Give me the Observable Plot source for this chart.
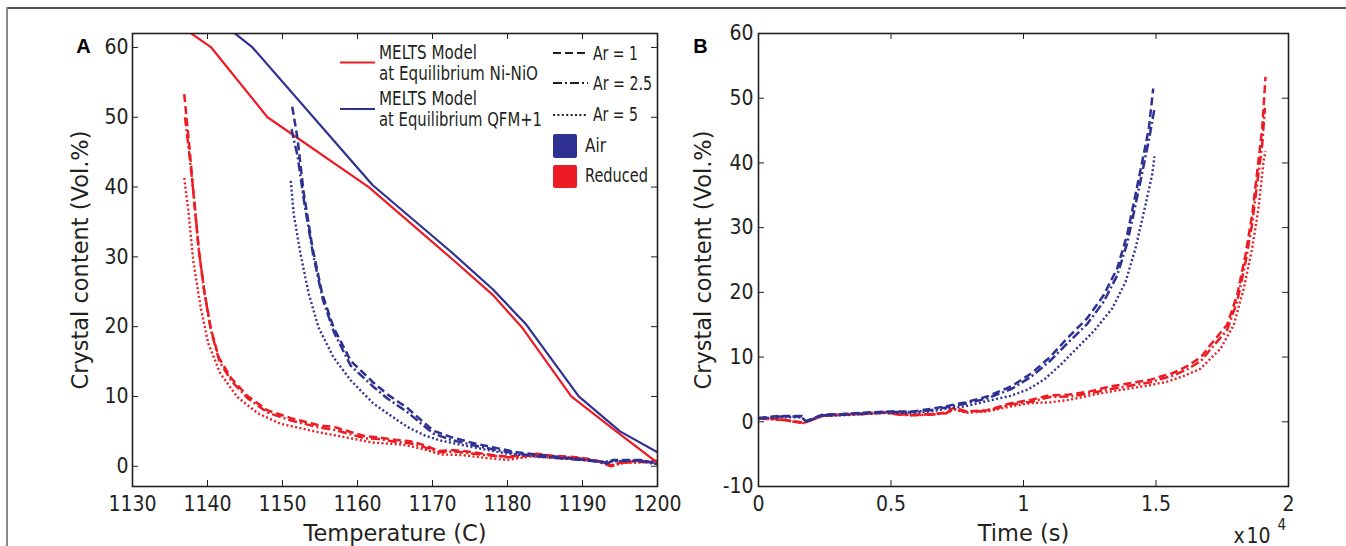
<!DOCTYPE html>
<html><head><meta charset="utf-8">
<script src="https://cdn.jsdelivr.net/npm/d3@7"></script>
<script src="https://cdn.jsdelivr.net/npm/@observablehq/plot@0.6"></script>
<style>
html,body{margin:0;padding:0;background:#fff;}
#fig{position:relative;width:1346px;height:546px;overflow:hidden;background:#fff;}
#fig > div.panel{position:absolute;top:0;}
#fig svg{overflow:visible;}
.border{position:absolute;}
</style></head>
<body><div id="fig"></div>
<script>
const RED = "#ed1c24", BLUE = "#2e3192", INK = "#231f20";

// ---------- Panel A: crystal content vs temperature ----------
const xTicksA = [1130, 1140, 1150, 1160, 1170, 1180, 1190, 1200];
const yTicksA = [0, 10, 20, 30, 40, 50, 60];

const meltsNiT = [1136.5, 1140.5, 1148, 1161.5, 1172.5, 1178, 1182, 1188.5, 1194.5, 1200];
const meltsNiV = [63, 60, 50, 40, 29.8, 24.6, 19.8, 10, 5, 0.5];
const meltsQfmT = [1142.5, 1146, 1162, 1172.5, 1178, 1182.5, 1189.5, 1195, 1200];
const meltsQfmV = [63, 60, 40.3, 30.7, 25.4, 20.3, 10, 5, 2];

const redAr1T = [1136.9,1137.6,1138.1,1138.8,1139.5,1140.4,1141.5,1143.1,1145.3,1148,1151.1,1154.7,1157,1159.1,1161,1163,1165,1167,1169,1170.8,1173,1175.5,1178,1180,1182,1184,1186,1188,1190,1192,1193.7,1195.3,1197,1200];
const redAr1V = [53.3,45.6,39.4,31.3,25.6,19.9,15.6,12.7,10.1,8.0,6.9,5.9,5.6,4.9,4.3,4.1,3.8,3.6,3.0,2.2,2.3,2.0,1.6,1.4,1.5,1.8,1.5,1.4,1.2,0.8,0.1,0.6,0.7,0.8];
const redAr25T = [1137,1137.6,1138.2,1138.9,1139.6,1140.5,1141.6,1143.2,1145.4,1148,1151,1154.7,1157,1159,1161,1163,1165,1167,1169,1171,1173,1175.5,1178,1180,1182,1184,1186,1188,1190,1192,1193.8,1195.3,1197,1200];
const redAr25V = [50.0,44.5,38.5,30.5,24.8,19.3,15.0,12.2,9.7,7.7,6.6,5.6,5.2,4.6,4.0,3.9,3.5,3.3,2.7,2.0,2.1,1.8,1.5,1.3,1.4,1.7,1.4,1.3,1.1,0.7,0.0,0.5,0.6,0.7];
const redAr5T = [1136.9,1137.5,1138.1,1139.1,1140.1,1141.7,1144,1146.7,1149.7,1154.7,1159.1,1162,1166,1169,1171,1174,1177,1180,1183,1186,1189,1192,1194,1196,1200];
const redAr5V = [41.3,36.1,29.4,22.7,17.6,13.3,9.9,7.6,6.1,4.9,4.0,3.4,3.1,2.4,1.7,1.6,1.2,0.9,1.4,1.2,1.0,0.7,0.2,0.5,0.6];

const blueAr1T = [1151.3,1152,1152.8,1154,1155.3,1156.8,1159.1,1162.1,1164,1166.6,1168.5,1170.1,1172.4,1175.5,1178.6,1181.3,1184.4,1188.8,1191,1193.3,1194.1,1197.7,1200];
const blueAr1V = [51.5,47,39.4,31.3,24.7,19.9,15.1,12.0,10.3,8.4,6.6,5.1,4.2,3.3,2.6,2.0,1.6,1.1,0.9,0.5,0.9,0.9,0.4];
const blueAr25T = [1151.2,1152,1152.9,1154.1,1155.4,1156.9,1159.1,1162.1,1164,1166.6,1168.5,1170.1,1172.4,1175.5,1178.6,1181.3,1184.4,1188.8,1191,1193.3,1194.1,1197.7,1200];
const blueAr25V = [48.3,44.5,37.8,30.2,23.8,19.1,14.4,11.4,9.7,7.8,6.1,4.7,3.8,3.0,2.3,1.8,1.4,1.0,0.8,0.4,0.8,0.8,0.3];
const blueAr5T = [1151.1,1151.5,1152.4,1153.5,1154.8,1156.8,1159.1,1162.1,1164.5,1166.7,1169,1171,1175.5,1180,1184,1188,1192,1194,1197,1200];
const blueAr5V = [40.9,36.1,30.4,24.7,19.9,15.6,12.3,9.0,7.2,5.6,4.4,3.7,2.7,1.8,1.4,1.1,0.7,0.7,0.8,0.3];

// ---------- Panel B: crystal content vs time ----------
const xTicksB = [0, 5000, 10000, 15000, 20000];
const yTicksB = [-10, 0, 10, 20, 30, 40, 50, 60];

const bAirAr1T = [0,800,1632,1787,2409,3200,3963,4895,5828,6500,7071,7800,8625,9557,10300,11000,11648,12403,13032,13535,13912,14226,14480,14730,14895];
const bAirAr1V = [0.6,0.9,0.9,0.1,1.1,1.2,1.4,1.6,1.6,2.0,2.4,3.0,3.9,5.5,7.5,10.0,12.9,16.0,19.6,23.7,28.9,35.1,40.2,45.3,51.5];
const bAirAr25T = [0,800,1632,1787,2409,3200,3963,4895,5828,6500,7071,7800,8625,9557,10300,11000,11648,12403,13032,13535,13912,14226,14480,14730,14943];
const bAirAr25V = [0.5,0.8,0.8,0.0,1.0,1.1,1.3,1.5,1.5,1.8,2.2,2.8,3.6,5.1,7.0,9.4,12.1,15.1,18.6,22.6,27.6,33.5,38.5,43.5,48.4];
const bAirAr5T = [0,800,1632,1787,2409,3200,3963,4895,5828,6500,7071,7800,8625,9500,10179,10800,11400,12000,12654,13346,13849,14226,14541,14856,14943];
const bAirAr5V = [0.5,0.7,0.7,0.0,0.9,1.0,1.2,1.4,1.4,1.6,2.0,2.4,3.2,4.0,5.0,6.6,8.8,11.3,14.0,17.5,21.6,26.8,32.4,38.2,41.0];

const bRedAr1T = [0,855,1709,2409,3200,4000,4740,5300,5828,6500,7071,7382,7848,8625,9557,10300,10956,11733,12510,13200,14064,14800,15170,15618,16176,16700,17057,17686,18063,18377,18629,18818,19007,19132];
const bRedAr1V = [0.6,0.4,-0.15,1.0,1.2,1.3,1.5,1.2,1.1,1.2,1.4,2.2,1.6,1.8,2.9,3.4,4.1,4.2,4.7,5.4,6.0,6.5,7.0,7.5,8.6,10.0,11.9,15.0,19.6,25.8,32.0,38.6,45.3,53.3];
const bRedAr25T = [0,855,1709,2409,3200,4000,4740,5300,5828,6500,7071,7382,7848,8625,9557,10300,10956,11733,12510,13200,14064,14800,15170,15618,16176,16700,17057,17686,18063,18377,18629,18818,19007,19110];
const bRedAr25V = [0.5,0.3,-0.2,0.9,1.1,1.2,1.4,1.1,1.0,1.1,1.3,2.0,1.5,1.7,2.7,3.1,3.8,3.9,4.4,5.0,5.6,6.1,6.6,7.1,8.1,9.4,11.2,14.2,18.6,24.6,30.6,36.8,42.8,48.5];
const bRedAr5T = [0,855,1709,2409,3200,4000,4740,5828,7071,7382,7848,8625,9557,10300,11000,11733,12906,14064,14700,15421,16000,16679,17434,17937,18314,18629,18868,19057,19132];
const bRedAr5V = [0.5,0.3,-0.2,0.9,1.1,1.2,1.4,1.0,1.3,1.9,1.4,1.6,2.4,2.9,3.0,3.4,4.4,5.2,5.6,6.2,7.0,8.2,11.3,15.0,20.6,26.8,33.0,40.2,41.8];

// ---------- styles ----------
const DASH1 = "8,4", DASH25 = "9,3,2,3", DASH5 = "2,2.4";
const TICKFONT = "'DejaVu Sans Condensed','DejaVu Sans',sans-serif";
const TITLEFONT = "'DejaVu Sans',sans-serif";

const pts = (xs, ys) => xs.map((x, i) => ({x, y: ys[i]}));
const line = (xs, ys, color, dash, w = 2.5) =>
  Plot.line(pts(xs, ys), {x: "x", y: "y", stroke: color, strokeWidth: w, strokeDasharray: dash,
    strokeLinecap: "butt", strokeLinejoin: "miter", clip: true});

function ticks(xt, yt, W, H) {
  const L = 6;
  return [
    Plot.ruleX(xt, {x: d => d, insetTop: H - L, stroke: INK, strokeWidth: 1}),
    Plot.ruleX(xt, {x: d => d, insetBottom: H - L, stroke: INK, strokeWidth: 1}),
    Plot.ruleY(yt, {y: d => d, insetRight: W - L, stroke: INK, strokeWidth: 1}),
    Plot.ruleY(yt, {y: d => d, insetLeft: W - L, stroke: INK, strokeWidth: 1})
  ];
}

const fig = document.getElementById("fig");

// Panel A
{
  const W = 680, H = 546, mL = 132, mR = 23, mT = 33, mB = 60;
  const pw = W - mL - mR, ph = H - mT - mB;
  const chart = Plot.plot({
    width: W, height: H, marginLeft: mL, marginRight: mR, marginTop: mT, marginBottom: mB,
    style: {fontFamily: TICKFONT, fontSize: "21px", color: INK, background: "transparent"},
    x: {domain: [1130, 1200]},
    y: {domain: [-2.9, 62]},
    marks: [
      line(meltsNiT, meltsNiV, RED, null, 2.2),
      line(meltsQfmT, meltsQfmV, BLUE, null, 2.2),
      line(redAr5T, redAr5V, RED, DASH5, 2.4),
      line(redAr25T, redAr25V, RED, DASH25),
      line(redAr1T, redAr1V, RED, DASH1),
      line(blueAr5T, blueAr5V, BLUE, DASH5, 2.4),
      line(blueAr25T, blueAr25V, BLUE, DASH25),
      line(blueAr1T, blueAr1V, BLUE, DASH1),
      Plot.frame({stroke: INK, strokeWidth: 1.6}),
      ...ticks(xTicksA, yTicksA, pw, ph),
      Plot.axisX(xTicksA, {tickSize: 0, tickPadding: 10, label: null, tickFormat: d => String(d)}),
      Plot.axisY(yTicksA, {tickSize: 0, tickPadding: 4, label: null, tickFormat: d => String(d)}),
      Plot.text(["Temperature (C)"], {frameAnchor: "bottom", dy: 54, lineAnchor: "bottom", textAnchor: "middle", text: d => d, fontSize: 22.5, fontFamily: TITLEFONT, fill: INK}),
      Plot.text(["Crystal content (Vol.%)"], {frameAnchor: "left", dx: -52, rotate: -90, textAnchor: "middle", lineAnchor: "middle", text: d => d, fontSize: 22.5, fontFamily: TITLEFONT, fill: INK}),
      Plot.text(["A"], {frameAnchor: "top-left", dx: -49, dy: 13, textAnchor: "middle", lineAnchor: "middle", text: d => d, fontSize: 20, fontWeight: "bold", fontFamily: "'Liberation Sans',sans-serif", fill: "#000"})
    ]
  });
  const d = document.createElement("div"); d.className = "panel"; d.style.left = "0px"; d.appendChild(chart); fig.appendChild(d);
}

// Panel B
{
  const W = 666, H = 546, mL = 78, mR = 58, mT = 33, mB = 60;
  const pw = W - mL - mR, ph = H - mT - mB;
  const chart = Plot.plot({
    width: W, height: H, marginLeft: mL, marginRight: mR, marginTop: mT, marginBottom: mB,
    style: {fontFamily: TICKFONT, fontSize: "21px", color: INK, background: "transparent"},
    x: {domain: [0, 20000]},
    y: {domain: [-10, 60]},
    marks: [
      line(bRedAr5T, bRedAr5V, RED, DASH5, 2.4),
      line(bRedAr25T, bRedAr25V, RED, DASH25),
      line(bRedAr1T, bRedAr1V, RED, DASH1),
      line(bAirAr5T, bAirAr5V, BLUE, DASH5, 2.4),
      line(bAirAr25T, bAirAr25V, BLUE, DASH25),
      line(bAirAr1T, bAirAr1V, BLUE, DASH1),
      Plot.frame({stroke: INK, strokeWidth: 1.6}),
      ...ticks(xTicksB, yTicksB, pw, ph),
      Plot.axisX(xTicksB, {tickSize: 0, tickPadding: 10, label: null, tickFormat: d => String(d / 1e4)}),
      Plot.axisY(yTicksB, {tickSize: 0, tickPadding: 5, label: null, tickFormat: d => String(d)}),
      Plot.text(["Time (s)"], {frameAnchor: "bottom", dy: 54, lineAnchor: "bottom", textAnchor: "middle", text: d => d, fontSize: 22.5, fontFamily: TITLEFONT, fill: INK}),
      Plot.text(["Crystal content (Vol.%)"], {frameAnchor: "left", dx: -55, rotate: -90, textAnchor: "middle", lineAnchor: "middle", text: d => d, fontSize: 22.5, fontFamily: TITLEFONT, fill: INK}),
      Plot.text(["B"], {frameAnchor: "top-left", dx: -58, dy: 13, textAnchor: "middle", lineAnchor: "middle", text: d => d, fontSize: 20, fontWeight: "bold", fontFamily: "'Liberation Sans',sans-serif", fill: "#000"}),
      Plot.text(["x\u200A10"], {frameAnchor: "bottom-right", dx: -18, dy: 56, lineAnchor: "bottom", textAnchor: "end", text: d => d, fontSize: 21, fill: INK}),
      Plot.text(["4"], {frameAnchor: "bottom-right", dx: -11, dy: 43, lineAnchor: "bottom", textAnchor: "start", text: d => d, fontSize: 15, fill: INK})
    ]
  });
  const d = document.createElement("div"); d.className = "panel"; d.style.left = "680px"; d.appendChild(chart); fig.appendChild(d);
}

// Legend (panel A, top right)
{
  const LF = "'DejaVu Sans Condensed','DejaVu Sans',sans-serif";
  const ns = "http://www.w3.org/2000/svg";
  const svg = document.createElementNS(ns, "svg");
  svg.setAttribute("width", 1346); svg.setAttribute("height", 546);
  svg.style.position = "absolute"; svg.style.left = "0"; svg.style.top = "0";
  const T = (x, y, len, s) => `<text x="${x}" y="${y}" textLength="${len}" lengthAdjust="spacingAndGlyphs">${s}</text>`;
  svg.innerHTML = `
  <g font-family="${LF}" font-size="19" fill="${INK}">
    <line x1="340" x2="375" y1="62.5" y2="62.5" stroke="${RED}" stroke-width="2.2"/>
    ${T(379, 59, 98, "MELTS Model")}
    ${T(379, 80, 159, "at Equilibrium Ni-NiO")}
    <line x1="340" x2="375" y1="109" y2="109" stroke="${BLUE}" stroke-width="2.2"/>
    ${T(379, 105, 98, "MELTS Model")}
    ${T(379, 126, 163, "at Equilibrium QFM+1")}
    <line x1="553" x2="588" y1="53" y2="53" stroke="${INK}" stroke-width="2" stroke-dasharray="${DASH1}"/>
    ${T(593, 60, 45, "Ar = 1")}
    <line x1="553" x2="588" y1="83" y2="83" stroke="${INK}" stroke-width="2" stroke-dasharray="${DASH25}"/>
    ${T(593, 90, 59, "Ar = 2.5")}
    <line x1="553" x2="588" y1="115" y2="115" stroke="${INK}" stroke-width="2" stroke-dasharray="${DASH5}"/>
    ${T(593, 121, 45, "Ar = 5")}
    <rect x="553" y="134" width="24" height="24" rx="2" fill="${BLUE}"/>
    ${T(585, 152, 21, "Air")}
    <rect x="553" y="165" width="24" height="23" rx="2" fill="${RED}"/>
    ${T(585, 182, 63, "Reduced")}
  </g>`;
  fig.appendChild(svg);
}

// page borders
{
  const mk = (css) => { const b = document.createElement("div"); b.className = "border"; Object.assign(b.style, css); fig.appendChild(b); };
  mk({left: "7px", top: "7px", width: "1339px", height: "0", borderTop: "2px solid #555"});
  mk({left: "6px", top: "7px", width: "0", height: "539px", borderLeft: "2px solid #8a8a8a"});
}
</script>
</body></html>
